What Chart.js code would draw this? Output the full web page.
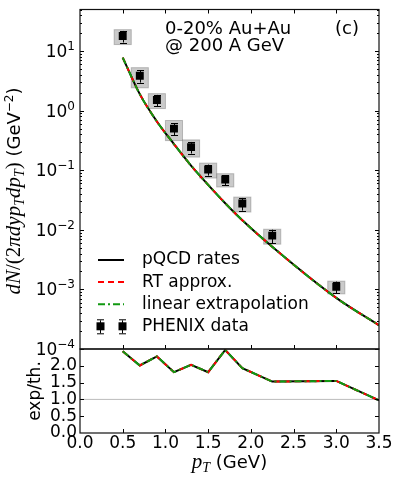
<!DOCTYPE html>
<html>
<head>
<meta charset="utf-8">
<script src="https://cdn.jsdelivr.net/npm/chart.js@4.4.1/dist/chart.umd.min.js"></script>
<style>
  html, body { margin: 0; background: #fff; }
  #wrap { position: relative; width: 399px; height: 482px; overflow: hidden; }
  canvas { position: absolute; left: 0; }
</style>
</head>
<body>
<div id="wrap">
  <canvas id="spec" width="399" height="360" style="top:0"></canvas>
  <canvas id="ratio" width="399" height="142" style="top:340px"></canvas>
</div>
<script>
// PHENIX points (pT in GeV, yield in GeV^-2), stat / sys as relative errors
const phenixPt = [0.5, 0.7, 0.9, 1.1, 1.3, 1.5, 1.7, 1.9, 2.25, 3.0];
const phenixYield = [17.9, 3.85, 1.51, 0.50, 0.245, 0.103, 0.070, 0.0277, 0.0080, 0.00111];
const phenixStat = [0.22, 0.23, 0.22, 0.23, 0.22, 0.21, 0.19, 0.24, 0.26, 0.22];
const phenixSys = [0.28, 0.37, 0.28, 0.37, 0.32, 0.28, 0.25, 0.28, 0.28, 0.24];
const sysHalfWidth = 0.1;

// theory curves
const theoryPt = [0.5, 0.7, 0.9, 1.1, 1.3, 1.5, 1.7, 1.9, 2.25, 3.0, 3.5];
const pqcdRates = [7.8, 1.9, 0.66, 0.276, 0.12, 0.057, 0.028, 0.0145, 0.0052, 0.00072, 0.00025];
const rtApprox = [7.8, 1.9, 0.66, 0.276, 0.12, 0.057, 0.028, 0.0145, 0.0052, 0.00072, 0.00025];
const linearExtrap = [7.8, 1.9, 0.66, 0.276, 0.12, 0.057, 0.028, 0.0145, 0.0052, 0.00072, 0.00025];

// exp/th. ratio panel
const ratioPqcd = [2.43, 2.01, 2.28, 1.81, 2.03, 1.81, 2.47, 1.93, 1.53, 1.55, 0.97];
const ratioRt = [2.43, 2.01, 2.28, 1.81, 2.03, 1.81, 2.47, 1.93, 1.53, 1.55, 0.97];
const ratioLinear = [2.43, 2.01, 2.28, 1.81, 2.03, 1.81, 2.47, 1.93, 1.53, 1.55, 0.97];
const unityX = [0, 3.5];
const unityY = [1, 1];

// ticks
const xTicks = [0.5, 1.0, 1.5, 2.0, 2.5, 3.0];
const decadeTicks = [1e-4, 1e-3, 1e-2, 1e-1, 1, 10];
const ratioTicks = [0, 0.5, 1.0, 1.5, 2.0];

const SANS = '"DejaVu Sans"';
Chart.defaults.font.family = SANS;
Chart.defaults.color = '#000';

const pts = (xs, ys) => xs.map((x, i) => ({ x, y: ys[i] }));

const minorDecade = [];
for (let k = -4; k <= 1; k++) {
  for (let m = 2; m <= 9; m++) {
    const v = m * Math.pow(10, k);
    if (v <= 50) minorDecade.push(v);
  }
}

// frame + inward ticks, matplotlib style
const framePlugin = {
  id: 'frame',
  afterDatasetsDraw(chart, args, o) {
    const { ctx, chartArea: a, scales: { x, y } } = chart;
    ctx.save();
    ctx.strokeStyle = '#000';
    ctx.lineWidth = 1;
    ctx.beginPath();
    for (const v of o.xTicks) {
      const px = Math.round(x.getPixelForValue(v)) + 0.5;
      if (o.topTicks) { ctx.moveTo(px, a.top); ctx.lineTo(px, a.top + 4); }
      ctx.moveTo(px, a.bottom); ctx.lineTo(px, a.bottom - 4);
    }
    const yt = (list, len) => {
      for (const v of list) {
        const py = Math.round(y.getPixelForValue(v)) + 0.5;
        ctx.moveTo(a.left, py); ctx.lineTo(a.left + len, py);
        ctx.moveTo(a.right, py); ctx.lineTo(a.right - len, py);
      }
    };
    yt(o.yMajor, 4);
    yt(o.yMinor || [], 2);
    ctx.stroke();
    ctx.lineWidth = 1.2;
    ctx.strokeStyle = '#111';
    ctx.strokeRect(a.left, a.top, a.right - a.left, a.bottom - a.top);
    ctx.restore();
  }
};

function drawRich(ctx, parts, x, y) {
  for (const p of parts) {
    ctx.font = p.f;
    ctx.fillText(p.t, x, y + (p.dy || 0));
    x += ctx.measureText(p.t).width;
  }
}
function richWidth(ctx, parts) {
  let w = 0;
  for (const p of parts) { ctx.font = p.f; w += ctx.measureText(p.t).width; }
  return w;
}

const MATH = 'italic 21px "Liberation Serif"';
const ROM = '21px "Liberation Serif"';
const MSUB = 'italic 14px "Liberation Serif"';

// error boxes + error bars under the PHENIX squares
const errorPlugin = {
  id: 'errs',
  beforeDatasetsDraw(chart) {
    const { ctx, chartArea: a, scales: { x, y } } = chart;
    ctx.save();
    ctx.beginPath();
    ctx.rect(a.left, a.top, a.right - a.left, a.bottom - a.top);
    ctx.clip();
    phenixPt.forEach((p, i) => {
      const v = phenixYield[i];
      const x0 = x.getPixelForValue(p - sysHalfWidth), x1 = x.getPixelForValue(p + sysHalfWidth);
      const y0 = y.getPixelForValue(v * (1 + phenixSys[i])), y1 = y.getPixelForValue(v * (1 - phenixSys[i]));
      ctx.fillStyle = 'rgba(150,150,150,0.5)';
      ctx.fillRect(x0, y0, x1 - x0, y1 - y0);
      ctx.strokeStyle = 'rgba(120,120,120,0.45)';
      ctx.lineWidth = 1;
      ctx.strokeRect(x0, y0, x1 - x0, y1 - y0);
    });
    ctx.strokeStyle = '#000';
    ctx.lineWidth = 1;
    ctx.beginPath();
    phenixPt.forEach((p, i) => {
      const v = phenixYield[i];
      const px = Math.round(x.getPixelForValue(p)) + 0.5;
      const hi = y.getPixelForValue(v * (1 + phenixStat[i]));
      const lo = y.getPixelForValue(v * (1 - phenixStat[i]));
      ctx.moveTo(px, hi); ctx.lineTo(px, lo);
      ctx.moveTo(px - 3.5, Math.round(hi) + 0.5); ctx.lineTo(px + 3.5, Math.round(hi) + 0.5);
      ctx.moveTo(px - 3.5, Math.round(lo) + 0.5); ctx.lineTo(px + 3.5, Math.round(lo) + 0.5);
    });
    ctx.stroke();
    ctx.restore();
  }
};

// tick labels, annotations, legend and axis title of the spectrum panel
const specText = {
  id: 'specText',
  afterDraw(chart) {
    const { ctx, scales: { y } } = chart;
    ctx.save();
    ctx.fillStyle = '#000';
    ctx.textBaseline = 'alphabetic';
    // y tick labels 10^k
    for (const v of decadeTicks) {
      const py = y.getPixelForValue(v);
      const k = Math.round(Math.log10(v));
      const exp = k < 0 ? '\u2212' + (-k) : String(k);
      const parts = [{ t: '10', f: '17px ' + SANS }, { t: exp, f: '12px ' + SANS, dy: -7 }];
      const w = richWidth(ctx, parts);
      drawRich(ctx, parts, 75 - w, py + 6);
    }
    // annotations
    ctx.font = '18px ' + SANS;
    ctx.fillText('0-20% Au+Au', 165, 34);
    ctx.fillText('@ 200 A GeV', 165, 51);
    ctx.fillText('(c)', 335, 34);

    // legend
    const ds = chart.data.datasets;
    ds.forEach((d, i) => {
      const ly = 260 + i * 22.1;
      if (d.showLine === false) {
        for (const mx of [100, 122]) {
          ctx.strokeStyle = '#000';
          ctx.lineWidth = 1;
          ctx.setLineDash([]);
          ctx.beginPath();
          ctx.moveTo(mx + 0.5, ly - 6); ctx.lineTo(mx + 0.5, ly + 7);
          ctx.moveTo(mx - 3, ly - 6.5); ctx.lineTo(mx + 4, ly - 6.5);
          ctx.moveTo(mx - 3, ly + 7.5); ctx.lineTo(mx + 4, ly + 7.5);
          ctx.stroke();
          ctx.fillStyle = '#000';
          ctx.fillRect(mx - 3.5, ly - 4, 8, 8);
        }
      } else {
        ctx.strokeStyle = d.borderColor;
        ctx.lineWidth = 2;
        ctx.setLineDash(d.borderDash || []);
        ctx.beginPath();
        ctx.moveTo(98, ly); ctx.lineTo(124, ly);
        ctx.stroke();
      }
      ctx.setLineDash([]);
      ctx.fillStyle = '#000';
      ctx.font = '17px ' + SANS;
      ctx.textBaseline = 'middle';
      ctx.fillText(d.label, 142, ly);
      ctx.textBaseline = 'alphabetic';
    });

    // y axis title
    const title = [
      { t: 'dN', f: MATH }, { t: '/(2', f: ROM }, { t: '\u03c0dyp', f: MATH },
      { t: 'T', f: MSUB, dy: 4 }, { t: 'dp', f: MATH }, { t: 'T', f: MSUB, dy: 4 },
      { t: ')', f: ROM }, { t: ' (GeV', f: '18px ' + SANS },
      { t: '\u22122', f: '12px ' + SANS, dy: -7 }, { t: ')', f: '18px ' + SANS }
    ];
    ctx.translate(20, 191);
    ctx.rotate(-Math.PI / 2);
    const tw = richWidth(ctx, title);
    drawRich(ctx, title, -tw / 2, 0);
    ctx.restore();
  }
};

new Chart(document.getElementById('spec'), {
  type: 'line',
  data: {
    datasets: [
      { label: 'pQCD rates', data: pts(theoryPt, pqcdRates), borderColor: '#000000', borderWidth: 2,
        pointRadius: 0, cubicInterpolationMode: 'monotone', order: 3 },
      { label: 'RT approx.', data: pts(theoryPt, rtApprox), borderColor: '#ff0000', borderWidth: 2,
        borderDash: [6, 4], pointRadius: 0, cubicInterpolationMode: 'monotone', order: 2 },
      { label: 'linear extrapolation', data: pts(theoryPt, linearExtrap), borderColor: '#119911', borderWidth: 2,
        borderDash: [7, 3, 2, 3], pointRadius: 0, cubicInterpolationMode: 'monotone', order: 1 },
      { label: 'PHENIX data', data: pts(phenixPt, phenixYield), showLine: false, pointStyle: 'rect',
        pointRadius: 5.6, backgroundColor: '#000', borderColor: '#000', borderWidth: 0, order: 0 }
    ]
  },
  options: {
    responsive: false,
    animation: false,
    layout: { padding: { left: 80, right: 20, top: 9.5, bottom: 11 } },
    scales: {
      x: { type: 'linear', min: 0, max: 3.5, display: false },
      y: { type: 'logarithmic', min: 1e-4, max: 50, display: false }
    },
    plugins: {
      legend: { display: false },
      tooltip: { enabled: false },
      frame: { xTicks: xTicks, topTicks: true, yMajor: decadeTicks, yMinor: minorDecade }
    }
  },
  plugins: [errorPlugin, framePlugin, specText]
});

const ratioText = {
  id: 'ratioText',
  afterDraw(chart) {
    const { ctx, scales: { y } } = chart;
    ctx.save();
    ctx.fillStyle = '#000';
    ctx.font = '17px ' + SANS;
    ctx.textAlign = 'right';
    ctx.textBaseline = 'middle';
    for (const v of ratioTicks) ctx.fillText(v.toFixed(1), 77, y.getPixelForValue(v));
    ctx.textAlign = 'left';
    ctx.textBaseline = 'alphabetic';
    // x title
    const xt = [{ t: 'p', f: MATH }, { t: 'T', f: MSUB, dy: 4 }, { t: ' (GeV)', f: '18px ' + SANS }];
    const w = richWidth(ctx, xt);
    drawRich(ctx, xt, (chart.chartArea.left + chart.chartArea.right) / 2 - w / 2, 128);
    // y title
    ctx.translate(40, 51);
    ctx.rotate(-Math.PI / 2);
    ctx.font = '17px ' + SANS;
    ctx.textAlign = 'center';
    ctx.fillText('exp/th.', 0, 0);
    ctx.restore();
  }
};

new Chart(document.getElementById('ratio'), {
  type: 'line',
  data: {
    datasets: [
      { label: 'unity', data: pts(unityX, unityY), borderColor: '#bbbbbb', borderWidth: 1, pointRadius: 0, order: 4 },
      { label: 'pQCD rates', data: pts(theoryPt, ratioPqcd), borderColor: '#000000', borderWidth: 2, pointRadius: 0, order: 3 },
      { label: 'RT approx.', data: pts(theoryPt, ratioRt), borderColor: '#ff0000', borderWidth: 2,
        borderDash: [6, 4], pointRadius: 0, order: 2 },
      { label: 'linear extrapolation', data: pts(theoryPt, ratioLinear), borderColor: '#119911', borderWidth: 2,
        borderDash: [7, 3, 2, 3], pointRadius: 0, order: 1 }
    ]
  },
  options: {
    responsive: false,
    animation: false,
    layout: { padding: { left: 80, right: 20, top: 9, bottom: 0 } },
    scales: {
      x: {
        type: 'linear', min: 0, max: 3.5,
        afterFit(s) { s.height = 49; },
        grid: { display: false, drawTicks: false },
        border: { display: false },
        ticks: { stepSize: 0.5, autoSkip: false, maxRotation: 0, padding: 0,
          font: { size: 17 }, color: '#000', callback: v => v.toFixed(1) }
      },
      y: { type: 'linear', min: 0, max: 2.5, display: false }
    },
    plugins: {
      legend: { display: false },
      tooltip: { enabled: false },
      frame: { xTicks: xTicks, topTicks: false, yMajor: [0.5, 1.0, 1.5, 2.0] }
    }
  },
  plugins: [framePlugin, ratioText]
});
</script>
</body>
</html>
